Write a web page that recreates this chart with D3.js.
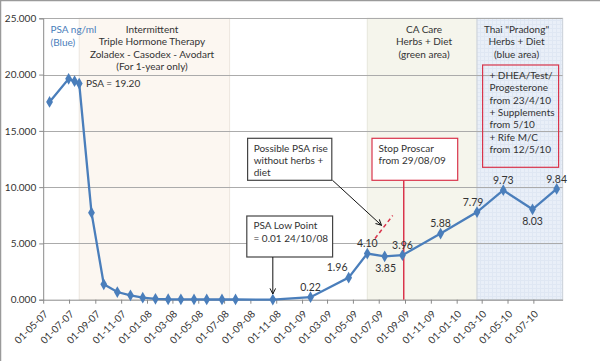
<!DOCTYPE html>
<html><head><meta charset="utf-8">
<script src="https://cdn.jsdelivr.net/npm/d3@7"></script>
<style>
html,body{margin:0;padding:0;background:#fff;}
svg{display:block;font-family:Lato,"Open Sans",sans-serif;}
</style></head><body>
<svg id="c" width="600" height="361"></svg>
<script>
// ---- data ----
const dates = ["2007-05-16","2007-06-30","2007-07-14","2007-07-25","2007-08-23","2007-09-21","2007-10-23","2007-11-23","2007-12-22","2008-01-21","2008-02-20","2008-03-21","2008-04-21","2008-05-21","2008-06-26","2008-07-28","2008-10-24","2009-01-21","2009-04-21","2009-06-04","2009-07-15","2009-08-26","2009-11-24","2010-02-18","2010-04-21","2010-06-29","2010-08-25"];
const psa = [17.57,19.62,19.41,19.20,7.73,1.37,0.68,0.39,0.18,0.08,0.04,0.03,0.02,0.02,0.02,0.02,0.01,0.22,1.96,4.10,3.85,3.96,5.88,7.79,9.73,8.03,9.84];
const labelIdx = [17,18,19,20,21,22,23,24,25,26];
const labelBelow = [false,false,false,true,false,false,false,false,true,false];
const labelDx = [0,-11.5,0,1,0,0,-4,0,0,0];
const yTicks = [0,5,10,15,20,25];
const xDomain = ["2007-05-01","2010-09-08"];
const tickStart = "2007-05-01", tickEnd = "2010-07-01";
const hormoneArea = ["2007-07-25","2008-07-14"];
const greenArea = ["2009-06-04","2010-02-18"];
const blueArea = ["2010-02-18","2010-09-08"];
const stopProscar = "2009-08-29";
const lowPoint = "2008-10-24";

const P = d3.timeParse("%Y-%m-%d");
const svg = d3.select("#c");
const L = 43.2, R = 562.6, T = 18.3, B = 299.7;
const x = d3.scaleTime().domain(xDomain.map(P)).range([L, R]);
const y = d3.scaleLinear().domain([0, 25]).range([B, T]);
const ink = "#333";
const blue = "#4a7ebb";
const red = "#d9344b";

// chart border
svg.append("path").attr("d","M0.5,361 V0.5 H600").attr("fill","none").attr("stroke","#9a9a9a").attr("stroke-width",1.5);

// pattern for blue area
const defs = svg.append("defs");
const pat = defs.append("pattern").attr("id","grid").attr("width",4).attr("height",4).attr("patternUnits","userSpaceOnUse");
pat.append("rect").attr("width",4).attr("height",4).attr("fill","#e9eff8");
pat.append("path").attr("d","M0,0.5H4M0.5,0V4").attr("stroke","#dfe7f3").attr("stroke-width",1);

// shaded areas
svg.append("rect").attr("x",x(P(hormoneArea[0]))).attr("y",T).attr("width",x(P(hormoneArea[1]))-x(P(hormoneArea[0]))).attr("height",B-T)
  .attr("fill","#fcf7f1").attr("stroke","#ece6df").attr("stroke-width",1);
svg.append("rect").attr("x",x(P(greenArea[0]))).attr("y",T).attr("width",x(P(greenArea[1]))-x(P(greenArea[0]))).attr("height",B-T)
  .attr("fill","#f5f5ec").attr("stroke","#e6e6dc").attr("stroke-width",1);
svg.append("rect").attr("x",x(P(blueArea[0]))).attr("y",T).attr("width",x(P(blueArea[1]))-x(P(blueArea[0]))).attr("height",B-T)
  .attr("fill","url(#grid)").attr("stroke","#d0d6de").attr("stroke-width",1.2);

// gridlines
svg.append("g").selectAll("line").data(yTicks.filter(d=>d>0)).join("line")
  .attr("x1",L).attr("x2",R).attr("y1",d=>Math.round(y(d))+0.5).attr("y2",d=>Math.round(y(d))+0.5)
  .attr("stroke","#ababab").attr("stroke-width",1.2);

// y axis
const ya = svg.append("g").attr("transform",`translate(${L},0)`)
  .call(d3.axisLeft(y).tickValues(yTicks).tickFormat(d3.format(".3f")).tickSize(4).tickPadding(3));
ya.select(".domain").attr("stroke","#8a8a8a");
ya.selectAll(".tick line").attr("stroke","#8a8a8a");
ya.selectAll("text").attr("fill",ink).style("font-size","10px").style("font-family","Lato,sans-serif");

// x axis
const xt = d3.timeMonth.every(2).range(P(tickStart), d3.timeDay.offset(P(tickEnd),1));
const xa = svg.append("g").attr("transform",`translate(0,${B})`)
  .call(d3.axisBottom(x).tickValues(xt).tickFormat(d3.timeFormat("%d-%m-%y")).tickSize(4).tickSizeOuter(0));
xa.select(".domain").attr("stroke","#8a8a8a");
xa.selectAll(".tick line").attr("stroke","#8a8a8a");
xa.selectAll("text").attr("fill",ink).style("font-size","10px").style("font-family","Lato,sans-serif")
  .attr("text-anchor","end").attr("dy",null).attr("y",0).attr("transform","translate(5,15) rotate(-45)");

// red vertical line
svg.append("line").attr("x1",x(P(stopProscar))).attr("x2",x(P(stopProscar))).attr("y1",180.3).attr("y2",B)
  .attr("stroke",red).attr("stroke-width",1.5);

// line + markers
const pts = dates.map((d,i)=>({d:P(d),v:psa[i]}));
svg.append("path").datum(pts).attr("fill","none").attr("stroke",blue).attr("stroke-width",2.3)
  .attr("d",d3.line().x(p=>x(p.d)).y(p=>y(p.v)));
svg.append("g").selectAll("path").data(pts).join("path")
  .attr("transform",p=>`translate(${x(p.d)},${y(p.v)})`)
  .attr("d",d3.symbol(d3.symbolDiamond,40)).attr("fill",blue);

// data labels
svg.append("g").selectAll("text").data(labelIdx).join("text")
  .attr("x",(i,k)=>x(pts[i].d)+labelDx[k]).attr("y",(i,k)=>y(pts[i].v)+(labelBelow[k]?15.2:-6.3))
  .attr("text-anchor","middle").attr("fill",ink).style("font-size","10.5px")
  .text(i=>psa[i].toFixed(2));

function lines(xp, y0, dy, arr, anchor, color, size){
  const t = svg.append("text").attr("fill",color||ink).style("font-size",(size||10)+"px").attr("text-anchor",anchor||"start");
  arr.forEach((s,i)=>t.append("tspan").attr("x",xp).attr("y",y0+i*dy).text(s));
  return t;
}
// region labels
lines(50.5, 33, 12.5, ["PSA ng/ml","(Blue)"], "start", blue);
lines(152, 33, 12.4, ["Intermittent","Triple Hormone Therapy","Zoladex - Casodex - Avodart","(For 1-year only)"], "middle");
lines(424, 33, 12.4, ["CA Care","Herbs + Diet","(green area)"], "middle");
lines(516.5, 33, 12.4, ["Thai \"Pradong\"","Herbs + Diet","(blue area)"], "middle");
lines(86, 86.5, 0, ["PSA = 19.20"], "start");

// right red box
svg.append("rect").attr("x",482.6).attr("y",65).attr("width",76).attr("height",102.3).attr("fill","none").attr("stroke",red).attr("stroke-width",1.2);
lines(489.5, 78.8, 12.4, ["+  DHEA/Test/","Progesterone","from 23/4/10","+ Supplements","from 5/10","+ Rife M/C","from 12/5/10"], "start");

// stop proscar box
svg.append("rect").attr("x",372).attr("y",138.3).attr("width",85.7).attr("height",42).attr("fill","#fff").attr("stroke",red).attr("stroke-width",1.2);
lines(378.5, 151.5, 12.4, ["Stop Proscar","from 29/08/09"], "start");

// arrow marker
defs.append("marker").attr("id","ah").attr("viewBox","0 0 10 10").attr("refX",9).attr("refY",5)
  .attr("markerWidth",7).attr("markerHeight",7).attr("orient","auto-start-reverse").attr("markerUnits","userSpaceOnUse")
  .append("path").attr("d","M1,1 L9,5 L1,9").attr("fill","none").attr("stroke","#111").attr("stroke-width",1.4);

// possible rise box
svg.append("rect").attr("x",247.6).attr("y",138.3).attr("width",84.2).attr("height",42).attr("fill","#fff").attr("stroke","#444").attr("stroke-width",1.2);
lines(253.7, 151.5, 12.4, ["Possible PSA rise","without herbs +","diet"], "start");
svg.append("line").attr("x1",332.5).attr("y1",180.3).attr("x2",381.5).attr("y2",225.3).attr("stroke","#111").attr("stroke-width",1).attr("marker-end","url(#ah)");
// dashed projection
svg.append("line").attr("x1",375).attr("y1",238.5).attr("x2",392.7).attr("y2",215.5).attr("stroke",red).attr("stroke-width",1.5).attr("stroke-dasharray","4,3");

// low point box
svg.append("rect").attr("x",246.8).attr("y",216).attr("width",85.8).attr("height",41).attr("fill","#fff").attr("stroke","#444").attr("stroke-width",1.2);
lines(253.5, 229.2, 12.4, ["PSA Low Point","= 0.01 24/10/08"], "start");
svg.append("line").attr("x1",x(P(lowPoint))).attr("y1",257).attr("x2",x(P(lowPoint))).attr("y2",294).attr("stroke","#111").attr("stroke-width",1).attr("marker-end","url(#ah)");
</script>
</body></html>
